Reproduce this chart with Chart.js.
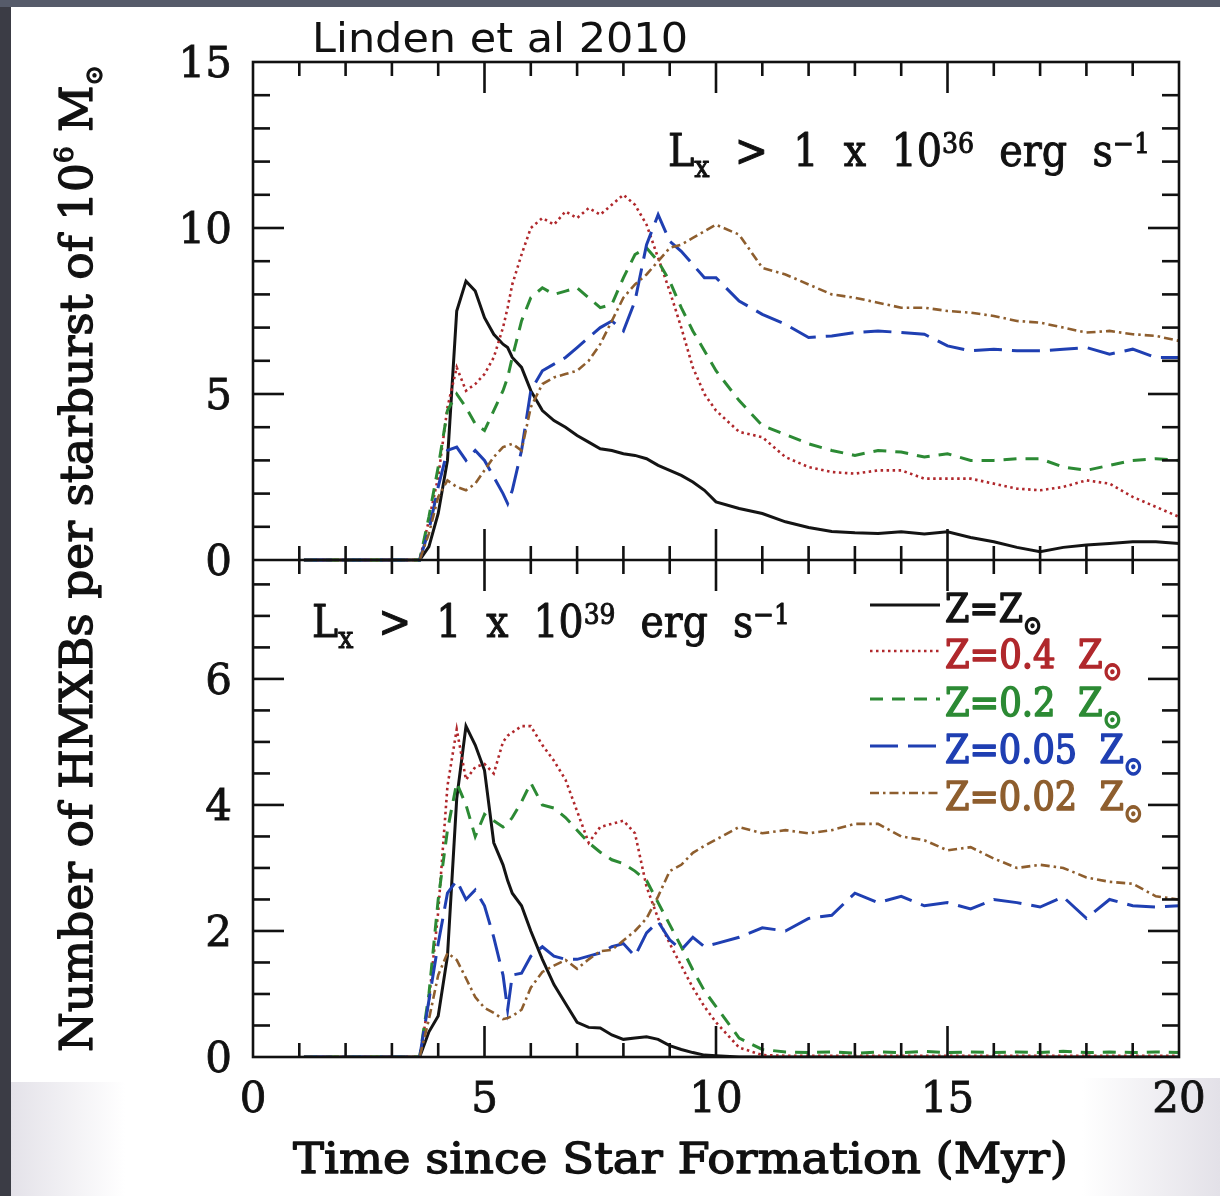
<!DOCTYPE html>
<html><head><meta charset="utf-8">
<script src="https://cdn.jsdelivr.net/npm/chart.js@4.4.0/dist/chart.umd.min.js"></script>
<style>html,body{margin:0;padding:0;background:#fff;overflow:hidden}canvas{display:block}</style>
</head><body>
<canvas id="c" width="1220" height="1196"></canvas>
<script>
// ---- data (time in Myr) ----
const times = [1.1,2,3,3.6,3.8,4.0,4.2,4.4,4.6,4.8,5.0,5.2,5.4,5.5,5.6,5.8,6.0,6.25,6.5,6.75,7.0,7.25,7.5,7.75,8.0,8.25,8.5,8.75,9.0,9.25,9.5,9.75,10,10.5,11,11.5,12,12.5,13,13.5,14,14.5,15,15.5,16,16.5,17,17.5,18,18.5,19,19.5,20];

// Upper panel: Lx > 1e36 erg/s
const top_Zsun  = [0,0,0,0,0.4,1.4,3.0,7.5,8.4,8.1, 7.3,6.8,6.5,6.4,6.1,5.8,5.1,4.5,4.2,4.0, 3.75,3.55,3.35,3.3,3.2,3.15,3.05,2.85,2.7,2.55, 2.35,2.1,1.75,1.55,1.4,1.15,0.98,0.86,0.82,0.8, 0.85,0.78,0.85,0.68,0.55,0.38,0.25,0.38,0.45,0.5, 0.55,0.55,0.5];
const top_Z04   = [0,0,0,0,1.2,2.5,4.6,5.8,5.1,5.3, 5.6,6.1,7.0,7.6,8.3,9.2,10.0,10.3,10.1,10.5, 10.3,10.6,10.4,10.7,11.0,10.7,10.1,9.1,8.1,7.0, 5.8,5.0,4.5,3.86,3.7,3.1,2.8,2.65,2.6,2.7, 2.7,2.45,2.45,2.45,2.3,2.15,2.1,2.2,2.4,2.3, 1.9,1.6,1.3];
const top_Z02   = [0,0,0,0,1.3,2.8,4.5,5.0,4.6,4.1, 3.9,4.5,5.1,5.5,6.1,7.2,7.9,8.2,8.0,8.1, 8.2,7.9,7.6,7.7,8.5,9.2,9.4,9.0,8.4,7.6, 6.9,6.3,5.7,4.8,4.05,3.78,3.5,3.3,3.15,3.3, 3.25,3.1,3.2,3.0,3.0,3.05,3.05,2.8,2.7,2.85, 3.0,3.05,3.0];
const top_Z005  = [0,0,0,0,0.9,2.2,3.3,3.4,3.0,3.3, 3.0,2.5,2.0,1.7,2.1,3.3,5.1,5.7,5.9,6.1, 6.4,6.7,7.0,7.2,6.9,7.8,9.5,10.4,9.6,9.3, 8.9,8.5,8.5,7.8,7.4,7.1,6.7,6.75,6.85,6.9, 6.85,6.8,6.45,6.3,6.35,6.3,6.3,6.35,6.4,6.2, 6.35,6.1,6.1];
const top_Z002  = [0,0,0,0,0.8,1.9,2.4,2.2,2.1,2.3, 2.7,3.1,3.4,3.45,3.5,3.3,4.6,5.3,5.5,5.6, 5.7,6.0,6.5,7.2,7.9,8.3,8.6,9.0,9.4,9.5, 9.7,9.9,10.1,9.8,8.8,8.6,8.3,8.0,7.9,7.75, 7.6,7.6,7.5,7.45,7.35,7.2,7.15,7.0,6.85,6.9, 6.8,6.75,6.6];

// Lower panel: Lx > 1e39 erg/s
const bot_Zsun  = [0,0,0,0,0.4,0.65,1.6,4.1,5.25,4.95, 4.55,3.4,3.05,2.8,2.6,2.4,2.0,1.55,1.15,0.85, 0.55,0.47,0.46,0.35,0.28,0.3,0.32,0.28,0.18,0.12, 0.07,0.03,0.02,0,0,0,0,0,0,0, 0,0,0,0,0,0,0,0,0,0, 0,0,0];
const bot_Z04   = [0,0,0,0,0.9,2.3,4.3,5.2,4.4,4.6, 4.65,4.5,5.0,5.1,5.15,5.25,5.25,4.95,4.7,4.4, 3.9,3.4,3.65,3.7,3.75,3.55,2.7,2.2,1.8,1.45, 1.1,0.8,0.55,0.15,0.03,0.02,0.02,0.02,0.02,0.02, 0.02,0.02,0.02,0.02,0.02,0.02,0.02,0.02,0.02,0.02, 0.02,0.02,0.02];
const bot_Z02   = [0,0,0,0,1.0,2.5,3.6,4.35,4.0,3.5, 3.85,3.75,3.65,3.7,3.8,4.05,4.35,4.0,3.95,3.8, 3.6,3.4,3.25,3.13,3.07,2.95,2.8,2.45,2.1,1.75, 1.38,1.05,0.8,0.3,0.12,0.08,0.07,0.08,0.06,0.08, 0.07,0.09,0.07,0.08,0.07,0.08,0.07,0.09,0.07,0.08, 0.07,0.08,0.07];
const bot_Z005  = [0,0,0,0,0.9,1.8,2.6,2.8,2.5,2.65, 2.4,1.9,1.3,0.75,1.3,1.33,1.6,1.75,1.6,1.55, 1.55,1.6,1.65,1.75,1.8,1.6,1.97,2.15,1.86,1.7, 1.9,1.75,1.8,1.9,2.05,2.0,2.2,2.25,2.6,2.45, 2.55,2.4,2.45,2.35,2.5,2.45,2.38,2.54,2.2,2.5, 2.4,2.38,2.4];
const bot_Z002  = [0,0,0,0,0.6,1.3,1.65,1.54,1.25,0.95, 0.78,0.7,0.6,0.62,0.65,0.75,1.1,1.35,1.45,1.54, 1.4,1.55,1.68,1.7,1.85,2.0,2.2,2.55,2.95,3.05, 3.24,3.35,3.45,3.65,3.55,3.6,3.55,3.6,3.7,3.7, 3.5,3.44,3.28,3.33,3.15,3.0,3.05,3.0,2.85,2.78, 2.75,2.55,2.5];

const xTicksMajor = [0,5,10,15,20];
const topTickLabels = [0,5,10,15];
const botTickLabels = [0,2,4,6];
const legendLabels = ['Z=Z', 'Z=0.4  Z', 'Z=0.2  Z', 'Z=0.05  Z', 'Z=0.02  Z'];
const titleText = 'Linden et al 2010';
const xTitle = 'Time since Star Formation (Myr)';

// ---- styles ----
const styles = [
  {color:'#141414', dash:[], width:3},
  {color:'#b0282c', dash:[2.5,3.5], width:2.6},
  {color:'#2c8a34', dash:[13,9], width:3},
  {color:'#1f3fb2', dash:[28,10], width:3},
  {color:'#8e5e2e', dash:[9,4,2.5,4], width:2.6}
];
const topSeries = [top_Zsun, top_Z04, top_Z02, top_Z005, top_Z002];
const botSeries = [bot_Zsun, bot_Z04, bot_Z02, bot_Z005, bot_Z002];

function pts(arr){ return times.map((t,i)=>({x:t, y:arr[i]})); }
const datasets = [];
[botSeries, topSeries].forEach((group, gi) => {
  group.forEach((arr, si) => {
    const st = styles[si];
    datasets.push({
      data: pts(arr), yAxisID: gi===1 ? 'yTop' : 'yBot',
      borderColor: st.color, borderWidth: st.width, borderDash: st.dash,
      pointRadius: 0, tension: 0, fill: false, order: 4 - si
    });
  });
});

const SERIF = '"DejaVu Serif", "Liberation Serif", serif';
function richText(ctx, parts, x, y, targetW, rot, family, weight) {
  family = family || SERIF;
  const wgt = weight === undefined ? 0.9 : weight;
  let w = 0;
  for (const p of parts) { ctx.font = p[1] + 'px ' + family; w += ctx.measureText(p[0]).width; }
  const sx = targetW ? targetW / w : 1;
  ctx.save();
  ctx.translate(x, y);
  if (rot) ctx.rotate(rot);
  ctx.scale(sx, 1);
  ctx.textAlign = 'left'; ctx.textBaseline = 'alphabetic';
  ctx.strokeStyle = ctx.fillStyle; ctx.lineWidth = wgt; ctx.lineJoin = 'round';
  ctx.setLineDash([]);
  let cx = 0;
  for (const p of parts) {
    ctx.font = p[1] + 'px ' + family;
    ctx.fillText(p[0], cx, p[2] || 0);
    if (wgt > 0) ctx.strokeText(p[0], cx, p[2] || 0);
    cx += ctx.measureText(p[0]).width;
  }
  ctx.restore();
}

const framePlugin = {
  id: 'frame',
  beforeDraw(chart) {
    const ctx = chart.ctx;
    ctx.save();
    ctx.fillStyle = '#3b3c45'; ctx.fillRect(0, 0, 1220, 1196);
    ctx.fillStyle = '#565b6a'; ctx.fillRect(0, 0, 1220, 7);
    ctx.fillStyle = '#ffffff'; ctx.fillRect(11, 7, 1209, 1189);
    let g = ctx.createLinearGradient(11, 0, 125, 0);
    g.addColorStop(0, '#e4e2e9'); g.addColorStop(1, '#ffffff');
    ctx.fillStyle = g; ctx.fillRect(11, 1082, 114, 114);
    g = ctx.createLinearGradient(1082, 0, 1220, 0);
    g.addColorStop(0, '#ffffff'); g.addColorStop(1, '#e3e1e8');
    ctx.fillStyle = g; ctx.fillRect(1082, 1078, 138, 118);
    ctx.restore();
  },
  afterDatasetsDraw(chart) {
    const {ctx, chartArea: a, scales} = chart;
    const X = scales.x, YT = scales.yTop, YB = scales.yBot;
    const mid = YT.getPixelForValue(0);
    ctx.save();
    ctx.strokeStyle = '#111'; ctx.lineWidth = 2.6; ctx.lineCap = 'butt';
    ctx.setLineDash([]);
    ctx.strokeRect(a.left, a.top, a.right - a.left, a.bottom - a.top);
    const seg = (x1,y1,x2,y2) => { ctx.beginPath(); ctx.moveTo(x1,y1); ctx.lineTo(x2,y2); ctx.stroke(); };
    seg(a.left, mid, a.right, mid);
    // x ticks
    for (let v = 1; v < 20; v++) {
      const px = X.getPixelForValue(v);
      const major = xTicksMajor.includes(v);
      const L = major ? 31 : 14;
      seg(px, a.top, px, a.top + L);
      seg(px, mid - L, px, mid + L);
      seg(px, a.bottom - L, px, a.bottom);
    }
    // top panel y ticks
    for (let v = 1; v < 15; v++) {
      const py = YT.getPixelForValue(v);
      const L = v % 5 === 0 ? 31 : 17;
      seg(a.left, py, a.left + L, py);
      seg(a.right - L, py, a.right, py);
    }
    // bottom panel y ticks
    for (let k = 1; k <= 15; k++) {
      const v = k * 0.5;
      const py = YB.getPixelForValue(v);
      const L = (k % 4 === 0) ? 31 : 17;
      seg(a.left, py, a.left + L, py);
      seg(a.right - L, py, a.right, py);
    }
    // tick labels
    ctx.fillStyle = '#111';
    ctx.strokeStyle = '#111'; ctx.lineWidth = 0.8;
    ctx.font = '42px ' + SERIF;
    ctx.textAlign = 'right'; ctx.textBaseline = 'alphabetic';
    const lbl = (s, x, y) => { ctx.fillText(s, x, y); ctx.strokeText(s, x, y); };
    topTickLabels.forEach(v => lbl(String(v), a.left - 21, YT.getPixelForValue(v) + 15));
    botTickLabels.forEach(v => lbl(String(v), a.left - 21, YB.getPixelForValue(v) + 15));
    ctx.textAlign = 'center';
    xTicksMajor.forEach(v => lbl(String(v), X.getPixelForValue(v), 1112));

    // axis titles
    ctx.fillStyle = '#111';
    richText(ctx, [[xTitle, 43, 0]], 293, 1173, 775, 0, SERIF, 1.3);
    richText(ctx, [['Number of HMXBs per starburst of 10', 45, 0], ['6', 26, -19], [' M', 45, 0], ['\u2299', 24, 10]], 92, 1052, 987, -Math.PI/2, SERIF, 1.3);

    // top title
    richText(ctx, [[titleText, 40, 0]], 312, 52, 376, 0, '"DejaVu Sans", sans-serif', 0);

    // annotations
    richText(ctx, [['L',44,0],['x',30,11],['  >  1  x  10',44,0],['36',28,-13],['  erg  s',44,0],['\u22121',28,-13]], 668, 166, 482, 0, SERIF, 1.0);
    richText(ctx, [['L',44,0],['x',30,11],['  >  1  x  10',44,0],['39',28,-13],['  erg  s',44,0],['\u22121',28,-13]], 312, 637, 478, 0, SERIF, 1.0);

    // legend
    const rows = [622, 668, 716, 763, 810];
    const widths = [97, 177, 177, 198, 198];
    rows.forEach((by, i) => {
      const st = styles[i];
      ctx.save();
      ctx.strokeStyle = st.color; ctx.lineWidth = st.width; ctx.setLineDash(st.dash);
      seg(870, by - 17, 940, by - 17);
      ctx.restore();
      ctx.fillStyle = st.color;
      richText(ctx, [[legendLabels[i], 40, 0], ['\u2299', 26, 12]], 945, by, widths[i], 0, SERIF, 1.6);
    });
    ctx.restore();
  }
};

new Chart(document.getElementById('c'), {
  type: 'line',
  data: { datasets },
  options: {
    responsive: false, animation: false, devicePixelRatio: 1,
    layout: { padding: { left: 253, right: 41, top: 62, bottom: 139 } },
    plugins: { legend: { display: false }, tooltip: { enabled: false } },
    scales: {
      x: { type: 'linear', min: 0, max: 20, display: false },
      yTop: { type: 'linear', min: -14.97, max: 15, display: false },
      yBot: { type: 'linear', min: 0, max: 15.79, display: false }
    }
  },
  plugins: [framePlugin]
});
</script>
</body></html>
